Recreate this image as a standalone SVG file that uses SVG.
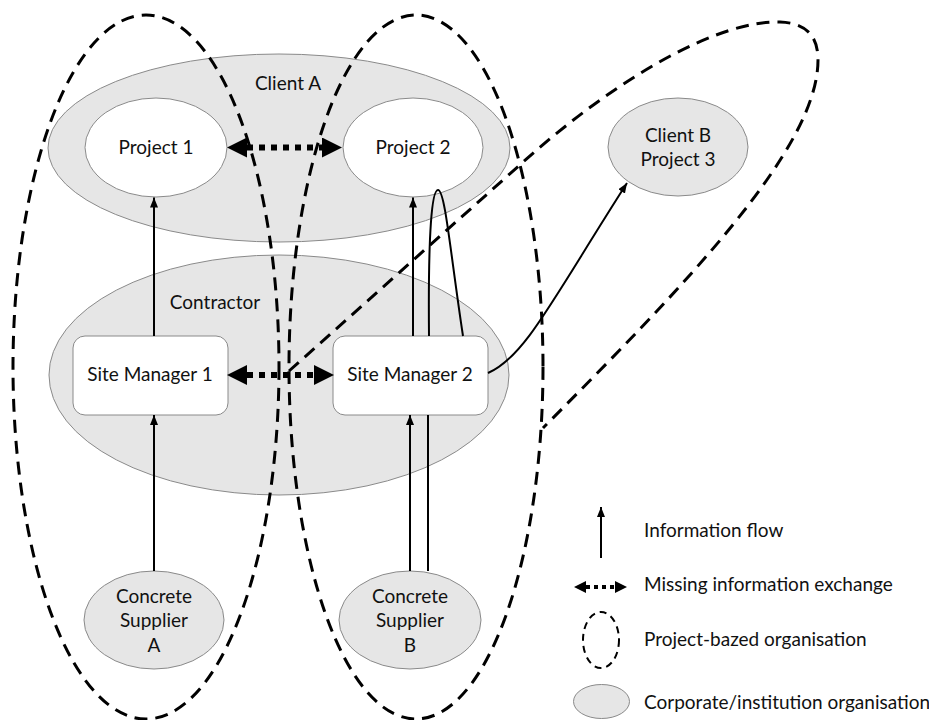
<svg xmlns="http://www.w3.org/2000/svg" width="929" height="720" viewBox="0 0 929 720">
  <style>
    text { font-family: Lato, "Open Sans", "Liberation Sans", sans-serif; font-size: 19px; fill: #111; text-anchor: middle; }
    text.legend { text-anchor: start; }
    .corp { fill: #e6e6e6; stroke: #8a8a8a; stroke-width: 1; }
    .proj { fill: #ffffff; stroke: #8a8a8a; stroke-width: 1; }
    .box { fill: #ffffff; stroke: #8a8a8a; stroke-width: 1; }
    .org { fill: none; stroke: #000; stroke-width: 3; stroke-dasharray: 13 8; }
    .flow { fill: none; stroke: #000; stroke-width: 2; }
    .missing { fill: none; stroke: #000; stroke-width: 6; stroke-dasharray: 6 6; }
  </style>
  <defs>
    <marker id="flowHead" viewBox="0 0 10 8" refX="10" refY="4" markerWidth="10" markerHeight="8" markerUnits="userSpaceOnUse" orient="auto">
      <path d="M0,0 L10,4 L0,8 z" fill="#000"/>
    </marker>
    <marker id="missHead" viewBox="0 0 20 20" refX="0" refY="10" markerWidth="20" markerHeight="20" markerUnits="userSpaceOnUse" orient="auto-start-reverse">
      <path d="M0,0 L20,10 L0,20 z" fill="#000"/>
    </marker>
    <marker id="missHeadSmall" viewBox="0 0 12 12" refX="0" refY="6" markerWidth="12" markerHeight="12" markerUnits="userSpaceOnUse" orient="auto-start-reverse">
      <path d="M0,0 L12,6 L0,12 z" fill="#000"/>
    </marker>
  </defs>

  <!-- corporate / institution organisations -->
  <g id="client-a">
    <ellipse class="corp" cx="279" cy="148" rx="231" ry="94"/>
    <text x="288" y="90">Client A</text>
  </g>
  <g id="contractor">
    <ellipse class="corp" cx="279" cy="375" rx="230" ry="120"/>
    <text x="215" y="309">Contractor</text>
  </g>
  <g id="client-b-project-3">
    <ellipse class="corp" cx="678" cy="147" rx="70" ry="49"/>
    <text x="678" y="142">Client B</text>
    <text x="678" y="166">Project 3</text>
  </g>
  <g id="supplier-a">
    <ellipse class="corp" cx="154" cy="620" rx="70" ry="49"/>
    <text x="154" y="603">Concrete</text>
    <text x="154" y="627">Supplier</text>
    <text x="154" y="652">A</text>
  </g>
  <g id="supplier-b">
    <ellipse class="corp" cx="410" cy="620" rx="71" ry="49"/>
    <text x="410" y="603">Concrete</text>
    <text x="410" y="627">Supplier</text>
    <text x="410" y="652">B</text>
  </g>

  <!-- projects and site managers -->
  <g id="project-1">
    <ellipse class="proj" cx="156" cy="147.5" rx="71" ry="49.5"/>
    <text x="156" y="154">Project 1</text>
  </g>
  <g id="project-2">
    <ellipse class="proj" cx="413" cy="147.5" rx="70" ry="49.5"/>
    <text x="413" y="154">Project 2</text>
  </g>
  <g id="site-manager-1">
    <rect class="box" x="73" y="336" width="155" height="79" rx="12"/>
    <text x="150" y="381">Site Manager 1</text>
  </g>
  <g id="site-manager-2">
    <rect class="box" x="333" y="336" width="155" height="79" rx="12"/>
    <text x="410" y="381">Site Manager 2</text>
  </g>

  <!-- connectors -->
  <g id="connectors">
    <line class="flow" x1="154" y1="336" x2="154" y2="197.5" marker-end="url(#flowHead)"/>
    <line class="flow" x1="413" y1="336" x2="413" y2="197.5" marker-end="url(#flowHead)"/>
    <path class="flow" d="M429,336 C428,230 432,190 438,190 C445,190 450,250 463,336"/>
    <line class="flow" x1="154" y1="571" x2="154" y2="415" marker-end="url(#flowHead)"/>
    <line class="flow" x1="410" y1="571" x2="410" y2="415" marker-end="url(#flowHead)"/>
    <line class="flow" x1="428" y1="571" x2="428" y2="415"/>
    <path class="flow" d="M488,373 C525,357 552,300 627,183" marker-end="url(#flowHead)"/>
    <line class="missing" x1="247" y1="147.5" x2="322" y2="147.5" marker-start="url(#missHead)" marker-end="url(#missHead)"/>
    <line class="missing" x1="247" y1="375" x2="314" y2="375" marker-start="url(#missHead)" marker-end="url(#missHead)"/>
  </g>

  <!-- project-based organisations -->
  <g id="project-org-1">
    <ellipse class="org" cx="146" cy="367" rx="133" ry="352"/>
  </g>
  <g id="project-org-2">
    <ellipse class="org" cx="416" cy="367" rx="127" ry="352"/>
  </g>
  <g id="project-org-3">
    <path class="org" d="M289,371 L522,163 C620,75 720,20 780,22 C810,23 818,40 818,60 C818,150 680,290 543,428"/>
  </g>

  <!-- legend -->
  <g id="legend">
    <line class="flow" x1="601" y1="558" x2="601" y2="507" marker-end="url(#flowHead)"/>
    <text class="legend" x="644" y="537">Information flow</text>
    <line x1="586" y1="587" x2="615" y2="587" stroke="#000" stroke-width="4" stroke-dasharray="4 4" marker-start="url(#missHeadSmall)" marker-end="url(#missHeadSmall)"/>
    <text class="legend" x="644" y="591">Missing information exchange</text>
    <ellipse cx="601" cy="640" rx="18" ry="28" fill="none" stroke="#000" stroke-width="2" stroke-dasharray="7 5"/>
    <text class="legend" x="644" y="646">Project-bazed organisation</text>
    <ellipse class="corp" cx="601.5" cy="701.5" rx="28" ry="17"/>
    <text class="legend" x="644" y="709">Corporate/institution organisation</text>
  </g>
</svg>
